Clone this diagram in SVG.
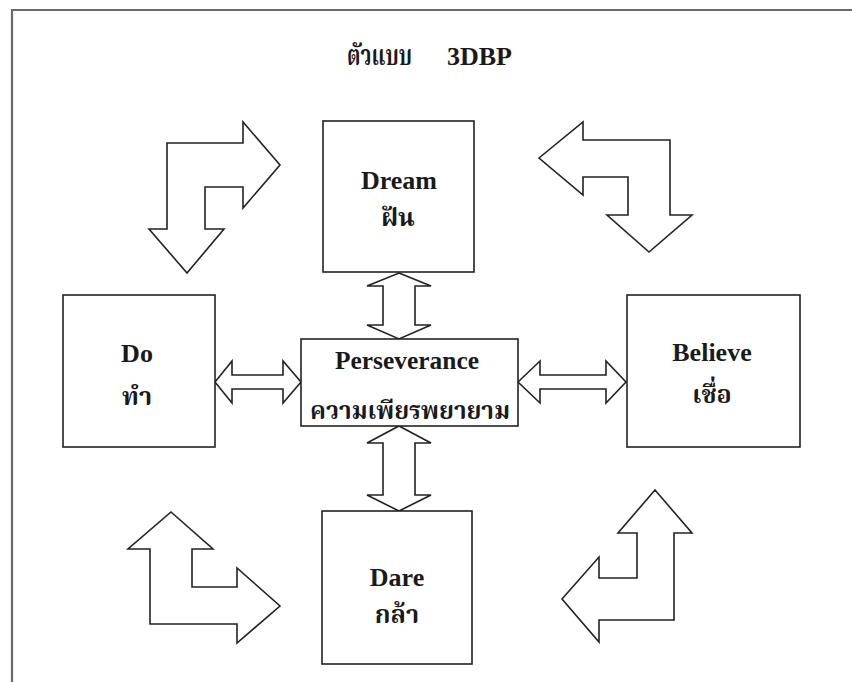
<svg xmlns="http://www.w3.org/2000/svg" width="852" height="682" viewBox="0 0 852 682">
<style>
.frame{fill:none;stroke:#6a6a6a;stroke-width:2.2}
.box{fill:#fff;stroke:#222;stroke-width:1.6}
.arr{fill:#fff;stroke:#222;stroke-width:1.6;stroke-linejoin:miter}
.en{font-family:"Liberation Serif","Noto Serif Thai","Noto Sans Thai",serif;font-weight:bold;font-size:26px;fill:#1a1a1a;text-anchor:middle}
.th{font-family:"Liberation Serif","Noto Serif Thai","Noto Sans Thai","Noto Sans",serif;font-weight:bold;font-size:25px;fill:#1a1a1a;text-anchor:middle}
.tt{font-family:"Liberation Serif","Noto Serif Thai","Noto Sans Thai",serif;font-weight:bold;font-size:26px;fill:#1a1a1a}
</style>
<rect x="0" y="0" width="852" height="682" fill="#fff"/>
<path class="frame" d="M12,682 V10 H852"/>
<g id="title">
<text class="tt" x="347" y="65" style="font-size:28px" textLength="65" lengthAdjust="spacingAndGlyphs">ตัวแบบ</text>
<text class="tt" x="447" y="65" textLength="65" lengthAdjust="spacingAndGlyphs">3DBP</text>
</g>
<g id="connectors">
<polygon class="arr" points="399,273 431,286 415,286 415,325 431,325 399,339 367,325 383,325 383,286 367,286"/>
<polygon class="arr" points="399,426 431,443 415,443 415,495 431,495 399,511 367,495 383,495 383,443 367,443"/>
<polygon class="arr" points="215,382 232,361 232,375 283,375 283,361 301,382 283,403 283,389 232,389 232,403"/>
<polygon class="arr" points="518,382 540,361 540,375 606,375 606,361 626,382 606,403 606,389 540,389 540,403"/>
<polygon class="arr" points="167,143 243,143 243,122 280,165 243,208 243,187 205,187 205,229 224,229 187,273 149,229 167,229"/>
<polygon class="arr" points="539,158 583,122 583,140 670,140 670,215 692,215 649,252 607,215 628,215 628,177 583,177 583,195"/>
<polygon class="arr" points="171,512 213,549 192,549 192,587 237,587 237,568 280,606 237,643 237,624 150,624 150,549 128,549"/>
<polygon class="arr" points="655,490 692,533 674,533 674,620 599,620 599,642 562,599 599,557 599,578 637,578 637,533 618,533"/>
</g>
<g id="dream">
<rect class="box" x="323" y="121" width="151" height="151"/>
<text class="en" x="399" y="189">Dream</text>
<text class="th" x="398" y="226">ฝัน</text>
</g>
<g id="do">
<rect class="box" x="63" y="295" width="152" height="152"/>
<text class="en" x="137" y="362">Do</text>
<text class="th" x="137" y="405">ทำ</text>
</g>
<g id="perseverance">
<rect class="box" x="301" y="339" width="217" height="87"/>
<text class="en" x="407" y="369" textLength="144" lengthAdjust="spacingAndGlyphs">Perseverance</text>
<text class="th" x="410" y="419" textLength="200" lengthAdjust="spacingAndGlyphs">ความเพียรพยายาม</text>
</g>
<g id="believe">
<rect class="box" x="627" y="295" width="173" height="152"/>
<text class="en" x="712" y="361">Believe</text>
<text class="th" x="712" y="403">เชื่อ</text>
</g>
<g id="dare">
<rect class="box" x="322" y="511" width="150" height="153"/>
<text class="en" x="397" y="586">Dare</text>
<text class="th" x="397" y="623">กล้า</text>
</g>
</svg>
